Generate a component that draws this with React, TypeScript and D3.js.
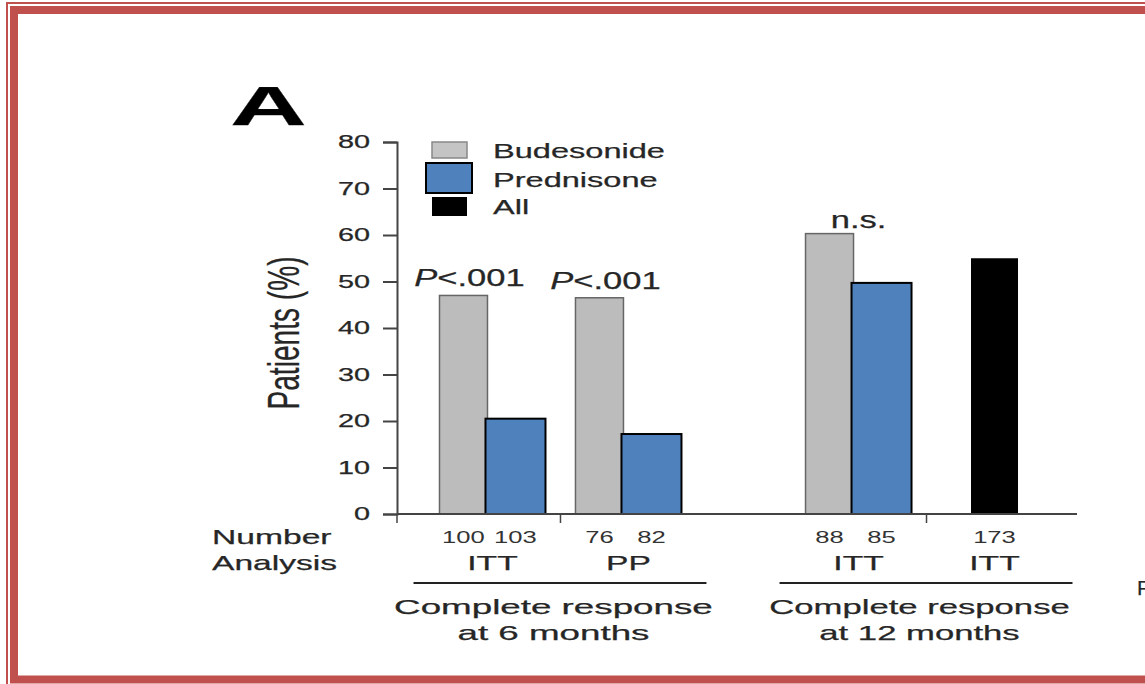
import React, { useRef, useEffect } from "react";
import * as d3 from "d3";

// values (patients, %)
const periods = ["6 months", "12 months"];
const groupPeriod = ["6 months", "6 months", "12 months", "12 months"];
const groupAnalysis = ["ITT", "PP", "ITT", "ITT"];
const budesonide = [47, 46.5, 60.3, null];
const prednisone = [20.5, 17.2, 49.7, null];
const allPatients = [null, null, null, 55];
const nBudesonide = ["100", "76", "88", null];
const nPrednisone = ["103", "82", "85", null];
const nAll = [null, null, null, "173"];
const significance = ["P<.001", "P<.001", "n.s.", null];
const yTicks = [0, 10, 20, 30, 40, 50, 60, 70, 80];
const seriesNames = ["Budesonide", "Prednisone", "All"];

const FONT = "'Liberation Sans', Arial, sans-serif";
const TEXT = "#262626";
const GRAY = "#bcbcbc";
const BLUE = "#4f81bd";
const FRAME = "#c0504d";
const STRETCH = 1.6; // the figure is pulled wide, so the glyphs are too

const stretch = (sel: any, k = STRETCH) =>
  sel.each(function (this: any) {
    const w = this.getComputedTextLength();
    d3.select(this).attr("textLength", w * k).attr("lengthAdjust", "spacingAndGlyphs");
  });

const App = () => {
  const ref = useRef<SVGSVGElement>(null);

  useEffect(() => {
    const svg = d3.select(ref.current);
    svg.selectAll("*").remove();

    const left = 397;
    const right = 1077;
    const y = d3.scaleLinear().domain([0, 80]).range([514, 142]);

    const x0 = d3
      .scaleBand()
      .domain(periods)
      .range([424.5, 1062.5])
      .paddingInner(0.257)
      .paddingOuter(0);
    const x1 = d3.scaleBand<number>().domain([0, 1]).range([0, x0.bandwidth()]);

    const groups = groupPeriod.map((p, i) => {
      const slot = i - groupPeriod.indexOf(p);
      const c = (x0(p) as number) + (x1(slot) as number) + x1.bandwidth() / 2;
      return { i, p, slot, c };
    });
    const pair = d3.scaleBand<number>().domain([0, 1]).range([-53, 53]);

    // frame
    svg.append("rect").attr("x", 7).attr("y", 3).attr("width", 1200).attr("height", 690)
      .attr("fill", "none").attr("stroke", FRAME).attr("stroke-width", 2);
    svg.append("rect").attr("x", 14).attr("y", 10).attr("width", 1200).attr("height", 669.5)
      .attr("fill", "none").attr("stroke", FRAME).attr("stroke-width", 8);

    const g = svg.append("g").attr("font-family", FONT).attr("fill", TEXT)
      .attr("stroke", TEXT).attr("stroke-width", 0.25);

    // panel letter
    g.append("text").attr("x", 230).attr("y", 125).attr("font-size", 56)
      .attr("font-weight", "bold").attr("fill", "#000").text("A")
      .call(stretch, 1.9);

    // y axis
    const yAxis = g.append("g").attr("transform", `translate(${left},0)`)
      .call(d3.axisLeft(y).tickValues(yTicks).tickSize(14).tickPadding(13));
    yAxis.selectAll("path, line").attr("stroke", "#444").attr("stroke-width", 2);
    yAxis.selectAll("text").attr("font-size", 18).attr("font-family", FONT)
      .attr("fill", TEXT).attr("stroke", TEXT).attr("stroke-width", 0.25).call(stretch);

    g.append("text").attr("transform", "translate(299,333) rotate(-90)")
      .attr("text-anchor", "middle").attr("font-size", 45).text("Patients (%)")
      .call(stretch, 1 / STRETCH);

    // bars
    groups.forEach(({ i, c }) => {
      if (budesonide[i] != null) {
        g.append("rect").attr("x", c + (pair(0) as number)).attr("width", 48)
          .attr("y", y(budesonide[i] as number)).attr("height", y(0) - y(budesonide[i] as number))
          .attr("fill", GRAY).attr("stroke", "#666").attr("stroke-width", 1.5);
      }
      if (prednisone[i] != null) {
        g.append("rect").attr("x", c + (pair(1) as number) - 7).attr("width", 60)
          .attr("y", y(prednisone[i] as number)).attr("height", y(0) - y(prednisone[i] as number))
          .attr("fill", BLUE).attr("stroke", "#000").attr("stroke-width", 2);
      }
      if (allPatients[i] != null) {
        g.append("rect").attr("x", c - 23.5).attr("width", 47)
          .attr("y", y(allPatients[i] as number)).attr("height", y(0) - y(allPatients[i] as number))
          .attr("fill", "#000").attr("stroke", "none");
      }
    });

    // x axis with group ticks
    g.append("line").attr("x1", left).attr("x2", right).attr("y1", y(0)).attr("y2", y(0))
      .attr("stroke", "#444").attr("stroke-width", 2);
    const tickXs = [left, ...periods.map((p) => (x0(p) as number) + x1.bandwidth())];
    tickXs.forEach((tx) => {
      g.append("line").attr("x1", tx).attr("x2", tx).attr("y1", y(0)).attr("y2", y(0) + 9)
        .attr("stroke", "#444").attr("stroke-width", 1.5);
    });

    // significance labels
    groups.forEach(({ i, c }) => {
      const s = significance[i];
      if (!s) return;
      const top = d3.max([budesonide[i], prednisone[i]].filter((v) => v != null) as number[]) as number;
      if (s.startsWith("P")) {
        const t = g.append("text").attr("x", c + (pair(0) as number) + 30).attr("y", y(top) - 9)
          .attr("text-anchor", "middle").attr("font-size", 23);
        t.append("tspan").attr("font-style", "italic").text("P");
        t.append("tspan").text(s.slice(1));
        t.call(stretch, 1.5);
      } else {
        g.append("text").attr("x", c).attr("y", y(top) - 6).attr("text-anchor", "middle")
          .attr("font-size", 23).text(s).call(stretch, 1.5);
      }
    });

    // number / analysis rows
    g.append("text").attr("x", 212).attr("y", 544).attr("font-size", 21).text("Number").call(stretch);
    g.append("text").attr("x", 212).attr("y", 570).attr("font-size", 21).text("Analysis").call(stretch);

    groups.forEach(({ i, c }) => {
      const nums: [string | null, number][] = [
        [nBudesonide[i], c + (pair(0) as number) + 24],
        [nPrednisone[i], c + (pair(1) as number) + 23],
        [nAll[i], c],
      ];
      nums.forEach(([n, nx]) => {
        if (!n) return;
        g.append("text").attr("x", nx).attr("y", 543).attr("text-anchor", "middle")
          .attr("font-size", 16).attr("fill", "#333").attr("stroke", "none").text(n).call(stretch);
      });
      g.append("text").attr("x", c).attr("y", 570).attr("text-anchor", "middle")
        .attr("font-size", 21).text(groupAnalysis[i]).call(stretch);
    });

    // period brackets
    periods.forEach((p, k) => {
      const x = x0(p) as number;
      const mid = x + x0.bandwidth() / 2 - 7;
      const k2 = k === 0 ? 1.75 : 1.65;
      g.append("line").attr("x1", x - 11).attr("x2", x + x0.bandwidth() + 10)
        .attr("y1", 583).attr("y2", 583).attr("stroke", "#222").attr("stroke-width", 2);
      g.append("text").attr("x", mid).attr("y", 614).attr("text-anchor", "middle")
        .attr("font-size", 21).text("Complete response").call(stretch, k2);
      g.append("text").attr("x", mid).attr("y", 640).attr("text-anchor", "middle")
        .attr("font-size", 21).text(`at ${p}`).call(stretch, k2);
    });

    // edge of the next panel, cut off at the right like in the source
    g.append("text").attr("x", 1137).attr("y", 595).attr("font-size", 21).text("F");

    // legend
    const legend = g.append("g");
    const swatches = [
      { x: 432, y: 142, w: 35, h: 16, fill: "#c4c4c4", stroke: "#888", sw: 1.5 },
      { x: 426, y: 163, w: 46, h: 30, fill: BLUE, stroke: "#000", sw: 2 },
      { x: 432, y: 197, w: 35, h: 19, fill: "#000", stroke: "none", sw: 0 },
    ];
    const baselines = [158, 187, 214];
    seriesNames.forEach((name, k) => {
      const s = swatches[k];
      legend.append("rect").attr("x", s.x).attr("y", s.y).attr("width", s.w).attr("height", s.h)
        .attr("fill", s.fill).attr("stroke", s.stroke).attr("stroke-width", s.sw);
      legend.append("text").attr("x", 493).attr("y", baselines[k]).attr("font-size", 21)
        .text(name).call(stretch, 1.55);
    });
  }, []);

  return (
    <svg
      ref={ref}
      width={1145}
      height={684}
      style={{ position: "fixed", left: 0, top: 0, background: "#fff" }}
    />
  );
};

export default App;
